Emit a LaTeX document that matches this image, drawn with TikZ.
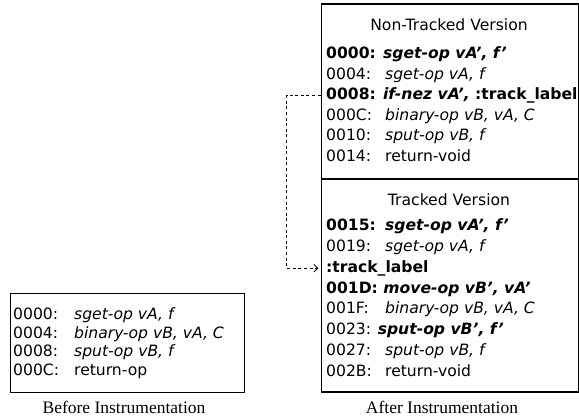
\documentclass[tikz,border=0pt]{standalone}
\usepackage{fontspec}
\setmainfont{DejaVu Sans}
\newfontfamily\capfont{Liberation Serif}
\usetikzlibrary{arrows.meta}

% fixed-width label column for the address part of a code line
\newcommand{\addr}[1]{\makebox[59pt][l]{#1}}
\newcommand{\addrL}[1]{\makebox[61pt][l]{#1}}

\begin{document}
\begin{tikzpicture}[x=1pt,y=-1pt,
  codebox/.style={draw, line width=1.3pt, inner sep=0pt, anchor=north west},
  codeline/.style={anchor=base west, inner sep=0pt, font=\fontsize{15.6}{18}\selectfont},
  heading/.style={anchor=base, inner sep=0pt, font=\fontsize{15.6}{18}\selectfont},
  caption/.style={inner sep=0pt, font=\capfont\fontsize{17.5}{20}\selectfont},
  jump/.style={dashed, dash pattern=on 3pt off 2.6pt, line width=0.9pt,
    -{Straight Barb[length=4pt,width=7.5pt,line width=0.9pt]}}]
\useasboundingbox (0,0) rectangle (579,419);

% ---- original method ----
\node[codebox, minimum width=234pt, minimum height=99pt] (before) at (10,293) {};
\node[codeline] (b00) at (13,319.7) {\addrL{0000:}\textit{sget-op vA, f}};
\node[codeline] (b04) at (13,338.2) {\addrL{0004:}\textit{binary-op vB, vA, C}};
\node[codeline] (b08) at (13,356.7) {\addrL{0008:}\textit{sput-op vB, f}};
\node[codeline] (b0C) at (13,375.2) {\addrL{000C:}return-op};
\node[caption] (capB) at (124,407) {Before Instrumentation};

% ---- instrumented method ----
\node[codebox, minimum width=257pt, minimum height=388pt] (after) at (320.5,3.5) {};
\coordinate (split) at (0,179);
\draw[line width=1.3pt] (after.west |- split) -- (after.east |- split);

% non-tracked part
\node[heading] (hN) at (449,30.7) {Non-Tracked Version};
\node[codeline] (n00) at (326,58.7) {\textbf{0000: \textit{sget-op vA’, f’}}};
\node[codeline] (n04) at (326,79.2) {\addr{0004:}\textit{sget-op vA, f}};
\node[codeline] (n08) at (326,99.7) {\textbf{0008: \textit{if-nez vA’,} :track\_label}};
\node[codeline] (n0C) at (326,120.2) {\addr{000C:}\textit{binary-op vB, vA, C}};
\node[codeline] (n10) at (326,140.7) {\addr{0010:}\textit{sput-op vB, f}};
\node[codeline] (n14) at (326,161.2) {\addr{0014:}return-void};

% tracked part
\node[heading] (hT) at (449,205.7) {Tracked Version};
\node[codeline] (t15) at (326,230.7) {\textbf{\addr{0015:}\textit{sget-op vA’, f’}}};
\node[codeline] (t19) at (326,251.5) {\addr{0019:}\textit{sget-op vA, f}};
\node[codeline] (tlab) at (326,272.3) {\textbf{:track\_label}};
\node[codeline] (t1D) at (326,293.1) {\textbf{001D: \textit{move-op vB’, vA’}}};
\node[codeline] (t1F) at (326,313.9) {\addr{001F:}\textit{binary-op vB, vA, C}};
\node[codeline] (t23) at (326,334.7) {0023: \textbf{\textit{sput-op vB’, f’}}};
\node[codeline] (t27) at (326,355.5) {\addr{0027:}\textit{sput-op vB, f}};
\node[codeline] (t2B) at (326,376.3) {\addr{002B:}return-void};
\node[caption] (capA) at (442,407) {After Instrumentation};

% branch from the if-nez test to the tracked label
\draw[jump] (after.west |- n08.west) -- ++(-34,0)
  |- ([xshift=-2pt]after.west |- tlab.west);
\end{tikzpicture}
\end{document}
